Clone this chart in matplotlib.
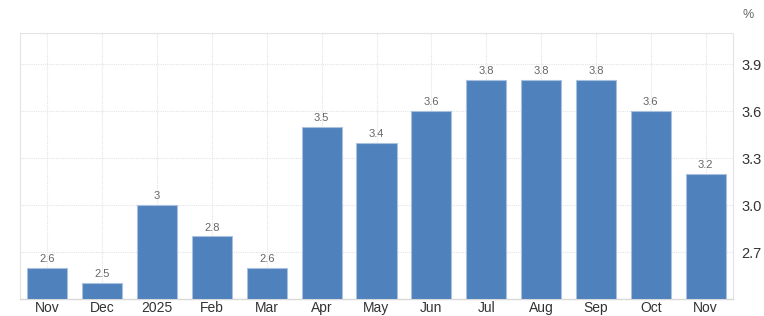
import matplotlib
matplotlib.use("Agg")
import matplotlib.pyplot as plt

plt.rcParams['font.family'] = ['Liberation Sans', 'DejaVu Sans']

categories = ["Nov", "Dec", "2025", "Feb", "Mar", "Apr", "May", "Jun", "Jul", "Aug", "Sep", "Oct", "Nov"]
values = [2.6, 2.5, 3.0, 2.8, 2.6, 3.5, 3.4, 3.6, 3.8, 3.8, 3.8, 3.6, 3.2]
value_labels = ["2.6", "2.5", "3", "2.8", "2.6", "3.5", "3.4", "3.6", "3.8", "3.8", "3.8", "3.6", "3.2"]
yticks = [2.7, 3.0, 3.3, 3.6, 3.9]
ytick_labels = ["2.7", "3.0", "3.3", "3.6", "3.9"]

fig = plt.figure(figsize=(7.64, 3.16), dpi=100)
ax = fig.add_axes([20/764, 17/316, 713/764, 266/316])

x = list(range(len(categories)))
base = 2.4
ax.bar(x, [v - base for v in values], bottom=base, width=0.73,
       color="#4f81bd", edgecolor="#a9c0de", linewidth=0.8, zorder=3)

for xi, v, lab in zip(x, values, value_labels):
    ax.text(xi, v + 0.025, lab, ha="center", va="bottom", fontsize=8, color="#666666", zorder=4)

ax.set_xlim(-0.5, len(categories) - 0.5)
ax.set_ylim(2.4, 4.1)
ax.set_xticks(x)
ax.set_xticklabels(categories, fontsize=10, color="#333333")
ax.set_yticks(yticks)
ax.set_yticklabels(ytick_labels, fontsize=10.5, color="#333333")
ax.yaxis.tick_right()
ax.tick_params(axis="both", length=0)
ax.tick_params(axis="x", pad=1.5)
ax.tick_params(axis="y", pad=6)

ax.grid(True, which="major", axis="both", color="#e4e4e4", linestyle=(0, (1, 1)), linewidth=0.8, zorder=0)
ax.axhline(4.1, color="#e4e4e4", linestyle=(0, (1, 1)), linewidth=0.8, zorder=0)

for side in ["top", "left", "right"]:
    ax.spines[side].set_color("#e4e4e4")
    ax.spines[side].set_linestyle((0, (1, 1)))
    ax.spines[side].set_linewidth(0.8)
ax.spines["bottom"].set_color("#d8d8d8")
ax.spines["bottom"].set_linewidth(1.0)

fig.text(748/764, 1 - 15/316, "%", fontsize=9, color="#666666", ha="center", va="center")

fig.savefig("out.png", dpi=100, facecolor="white")
